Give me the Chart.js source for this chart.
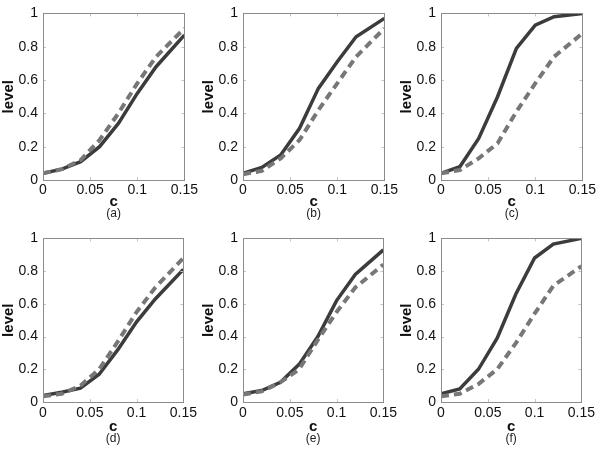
<!DOCTYPE html>
<html lang="en">
<head>
<meta charset="UTF-8">
<title>level vs c</title>
<script src="https://cdn.jsdelivr.net/npm/chart.js"></script>
<style>
    body { margin: 0; background: #fff; }
    #wrap { position: relative; width: 600px; height: 449px; }
    .panel { position: absolute; }
</style>
</head>
<body>
<div id="wrap"></div>
<script>
    // x positions of the sampled points
    const cValues = [0, 0.02, 0.04, 0.06, 0.08, 0.10, 0.12, 0.15];

    // solid (dark) and dashed (grey) series for each panel
    const solidA  = [0.04, 0.065, 0.11, 0.20, 0.34, 0.52, 0.68, 0.87];
    const dashedA = [0.04, 0.065, 0.12, 0.24, 0.40, 0.58, 0.74, 0.91];
    const solidB  = [0.04, 0.075, 0.15, 0.31, 0.55, 0.71, 0.86, 0.97];
    const dashedB = [0.035, 0.055, 0.13, 0.24, 0.42, 0.58, 0.74, 0.91];
    const solidC  = [0.04, 0.08, 0.25, 0.50, 0.79, 0.93, 0.98, 1.0];
    const dashedC = [0.04, 0.06, 0.13, 0.22, 0.41, 0.58, 0.74, 0.88];
    const solidD  = [0.04, 0.06, 0.085, 0.17, 0.32, 0.49, 0.63, 0.81];
    const dashedD = [0.035, 0.05, 0.10, 0.20, 0.37, 0.55, 0.70, 0.88];
    const solidE  = [0.05, 0.07, 0.12, 0.23, 0.40, 0.62, 0.78, 0.93];
    const dashedE = [0.045, 0.065, 0.12, 0.20, 0.38, 0.55, 0.70, 0.84];
    const solidF  = [0.05, 0.08, 0.20, 0.39, 0.66, 0.88, 0.965, 1.0];
    const dashedF = [0.035, 0.05, 0.11, 0.20, 0.36, 0.54, 0.71, 0.83];

    const panelLabels = ["(a)", "(b)", "(c)", "(d)", "(e)", "(f)"];
    const xTicks = [0, 0.05, 0.1, 0.15];
    const yTicks = [0, 0.2, 0.4, 0.6, 0.8, 1];

    const FONT = "'Liberation Sans', Arial, Helvetica, sans-serif";

    // box around the plot area with small inward tick marks (matlab style)
    const framePlugin = {
        id: "frame",
        afterDraw(chart) {
            const a = chart.chartArea, ctx = chart.ctx;
            const xs = chart.scales.x, ys = chart.scales.y;
            ctx.save();
            ctx.strokeStyle = "#c4c4c4";
            ctx.lineWidth = 1;
            xTicks.forEach(v => {
                const px = Math.round(xs.getPixelForValue(v)) + 0.5;
                ctx.beginPath();
                ctx.moveTo(px, a.bottom); ctx.lineTo(px, a.bottom - 3);
                ctx.moveTo(px, a.top); ctx.lineTo(px, a.top + 3);
                ctx.stroke();
            });
            yTicks.forEach(v => {
                const py = Math.round(ys.getPixelForValue(v)) + 0.5;
                ctx.beginPath();
                ctx.moveTo(a.left, py); ctx.lineTo(a.left + 3, py);
                ctx.moveTo(a.right, py); ctx.lineTo(a.right - 3, py);
                ctx.stroke();
            });
            ctx.strokeStyle = "#8c8c8c";
            ctx.strokeRect(Math.round(a.left) + 0.5, Math.round(a.top) + 0.5,
                Math.round(a.right - a.left), Math.round(a.bottom - a.top));

            // panel label under the axis title, centred on the plot area
            const opts = chart.options.plugins.frame;
            ctx.fillStyle = "#222";
            ctx.font = "12px " + FONT;
            ctx.textAlign = "center";
            ctx.textBaseline = "middle";
            ctx.fillText(opts.label, (a.left + a.right) / 2, opts.labelY);
            ctx.restore();
        }
    };

    function toPoints(ys) {
        return cValues.map((c, i) => ({ x: c, y: ys[i] }));
    }

    function makePanel(idx, solid, dashed, box) {
        const canvas = document.createElement("canvas");
        canvas.className = "panel";
        canvas.style.left = box.left + "px";
        canvas.style.top = box.top + "px";
        canvas.width = box.width;
        canvas.height = box.height;
        canvas.style.width = box.width + "px";
        canvas.style.height = box.height + "px";
        document.getElementById("wrap").appendChild(canvas);

        const pad = { top: 0, right: 0, left: 0, bottom: 0 };

        const chart = new Chart(canvas.getContext("2d"), {
            type: "line",
            data: {
                datasets: [
                    {
                        data: toPoints(dashed),
                        borderColor: "#777777",
                        borderWidth: 4,
                        borderDash: [8, 5],
                        pointRadius: 0,
                        tension: 0,
                    },
                    {
                        data: toPoints(solid),
                        borderColor: "#3c3c3c",
                        borderWidth: 3.5,
                        pointRadius: 0,
                        tension: 0,
                    },
                ],
            },
            options: {
                responsive: false,
                animation: false,
                layout: { padding: pad },
                plugins: {
                    legend: { display: false },
                    tooltip: { enabled: false },
                    title: { display: false },
                    frame: { label: panelLabels[idx], labelY: box.labelY },
                },
                scales: {
                    x: {
                        type: "linear",
                        min: 0,
                        max: 0.15,
                        afterBuildTicks: s => { s.ticks = xTicks.map(v => ({ value: v })); },
                        grid: { display: false, drawTicks: false },
                        border: { display: false },
                        ticks: {
                            color: "#111",
                            padding: box.tickPad,
                            maxRotation: 0,
                            font: { family: FONT, size: 14 },
                            callback: v => String(Number(v.toFixed(2))),
                        },
                        title: {
                            display: true,
                            text: "c",
                            color: "#111",
                            padding: { top: box.titlePad, bottom: 0 },
                            font: { family: FONT, size: 15, weight: "bold" },
                        },
                    },
                    y: {
                        min: 0,
                        max: 1,
                        afterBuildTicks: s => { s.ticks = yTicks.map(v => ({ value: v })); },
                        afterFit: s => { s.width = 43; },
                        grid: { display: false, drawTicks: false },
                        border: { display: false },
                        ticks: {
                            color: "#111",
                            padding: 5,
                            font: { family: FONT, size: 14 },
                            callback: v => String(Number(v.toFixed(1))),
                        },
                        title: {
                            display: true,
                            text: "level",
                            color: "#111",
                            padding: { top: 0, bottom: 0 },
                            font: { family: FONT, size: 15, weight: "bold" },
                        },
                    },
                },
            },
            plugins: [framePlugin],
        });

        // nudge the padding until the plot area sits where the reference has it
        for (let k = 0; k < 3; k++) {
            const a = chart.chartArea;
            pad.top = Math.max(0, pad.top + (box.areaTop - a.top));
            pad.bottom = Math.max(0, pad.bottom + (a.bottom - box.areaBottom));
            pad.right = Math.max(0, pad.right + (a.right - box.areaRight));
            chart.options.layout.padding = { ...pad };
            chart.update();
        }
    }

    const cols = [
        { left: 0, areaRight: 189 },
        { left: 200, areaRight: 185 },
        { left: 398, areaRight: 187 },
    ];
    const rows = [
        { top: 0, height: 225, areaTop: 7, areaBottom: 180, tickPad: 2, titlePad: -8, labelY: 214 },
        { top: 225, height: 224, areaTop: 16, areaBottom: 177, tickPad: 3, titlePad: -7, labelY: 214 },
    ];
    const series = [
        [solidA, dashedA], [solidB, dashedB], [solidC, dashedC],
        [solidD, dashedD], [solidE, dashedE], [solidF, dashedF],
    ];

    series.forEach((s, i) => {
        const col = cols[i % 3], row = rows[Math.floor(i / 3)];
        makePanel(i, s[0], s[1], {
            left: col.left, top: row.top, width: 200, height: row.height,
            areaTop: row.areaTop, areaBottom: row.areaBottom, areaRight: col.areaRight,
            tickPad: row.tickPad, titlePad: row.titlePad, labelY: row.labelY,
        });
    });
</script>
</body>
</html>
